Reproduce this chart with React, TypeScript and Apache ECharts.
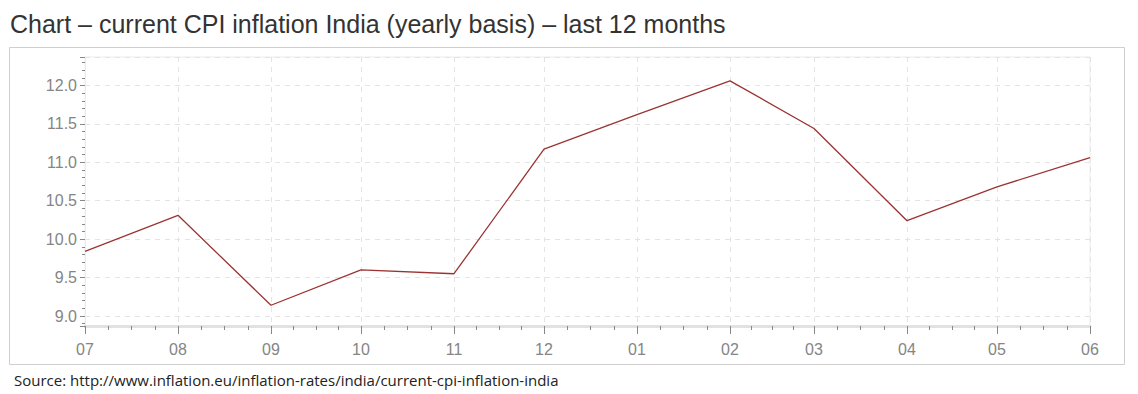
import React, { useEffect, useRef } from "react";
import * as echarts from "echarts";

const months = [
  "2012-07-01", "2012-08-01", "2012-09-01", "2012-10-01", "2012-11-01", "2012-12-01",
  "2013-01-01", "2013-02-01", "2013-03-01", "2013-04-01", "2013-05-01", "2013-06-01",
];
const inflation = [9.84, 10.31, 9.14, 9.6, 9.55, 11.17, 11.62, 12.06, 11.44, 10.24, 10.68, 11.06];

const titleText = "Chart – current CPI inflation India (yearly basis) – last 12 months";
const sourceText = "Source: http://www.inflation.eu/inflation-rates/india/current-cpi-inflation-india";

export default function App() {
  const ref = useRef<HTMLDivElement>(null);
  useEffect(() => {
    if (!ref.current) return;
    const chart = echarts.init(ref.current, null, { renderer: "svg" });
    const DAY = 24 * 3600 * 1000;
    chart.setOption({
      animation: false,
      backgroundColor: "#ffffff",
      title: {
        text: titleText,
        left: 2,
        top: 3,
        padding: 0,
        textStyle: { fontFamily: "Liberation Sans, Arial, sans-serif", fontSize: 25, fontWeight: "normal", color: "#333333" },
      },
      graphic: [
        {
          type: "rect",
          shape: { x: 1.5, y: 39.5, width: 1115, height: 317 },
          style: { fill: "none", stroke: "#cfcfcf", lineWidth: 1 },
          silent: true,
        },
        {
          type: "text",
          x: 6,
          y: 364,
          style: { text: sourceText, fontFamily: "Open Sans, Noto Sans, sans-serif", fontSize: 15, fill: "#222222" },
          silent: true,
        },
      ],
      grid: {
        left: 77,
        right: 40,
        top: 49,
        bottom: 68,
        show: true,
        borderColor: "#ececec",
        borderWidth: 1,
        backgroundColor: "#ffffff",
      },
      xAxis: {
        type: "time",
        min: months[0],
        max: months[months.length - 1],
        splitNumber: 12,
        minInterval: 28 * DAY,
        maxInterval: 31 * DAY,
        axisLine: { show: true, lineStyle: { color: "#e2e2e2", width: 3 } },
        axisTick: { show: true, length: 8, lineStyle: { color: "#888888", width: 1 } },
        minorTick: { show: true, splitNumber: 4, length: 4, lineStyle: { color: "#888888", width: 1 } },
        axisLabel: {
          color: "#858585",
          fontSize: 16,
          fontFamily: "Liberation Sans, Arial, sans-serif",
          margin: 15,
          hideOverlap: false,
          formatter: (val: number) => {
            const d = new Date(val);
            return String(d.getMonth() + 1).padStart(2, "0");
          },
        },
        splitLine: { show: true, lineStyle: { color: "#e4e4e4", type: [5, 5], width: 1 } },
      },
      yAxis: {
        type: "value",
        min: 8.87,
        max: 12.37,
        splitNumber: 7,
        axisLine: { show: true, lineStyle: { color: "#ececec", width: 1 } },
        axisTick: { show: true, length: 5, lineStyle: { color: "#888888", width: 1 } },
        minorTick: { show: true, splitNumber: 5, length: 3, lineStyle: { color: "#888888", width: 1 } },
        axisLabel: {
          color: "#858585",
          fontSize: 16,
          fontFamily: "Liberation Sans, Arial, sans-serif",
          margin: 8,
          showMinLabel: false,
          showMaxLabel: false,
          formatter: (v: number) => v.toFixed(1),
        },
        splitLine: { show: true, lineStyle: { color: "#e4e4e4", type: [5, 5], width: 1 } },
      },
      series: [
        {
          type: "line",
          data: months.map((m, i) => [m, inflation[i]]),
          showSymbol: false,
          symbol: "none",
          lineStyle: { color: "#9b3333", width: 1.3 },
        },
      ],
    });
    return () => chart.dispose();
  }, []);
  return <div ref={ref} style={{ width: 1122, height: 386 }} />;
}
